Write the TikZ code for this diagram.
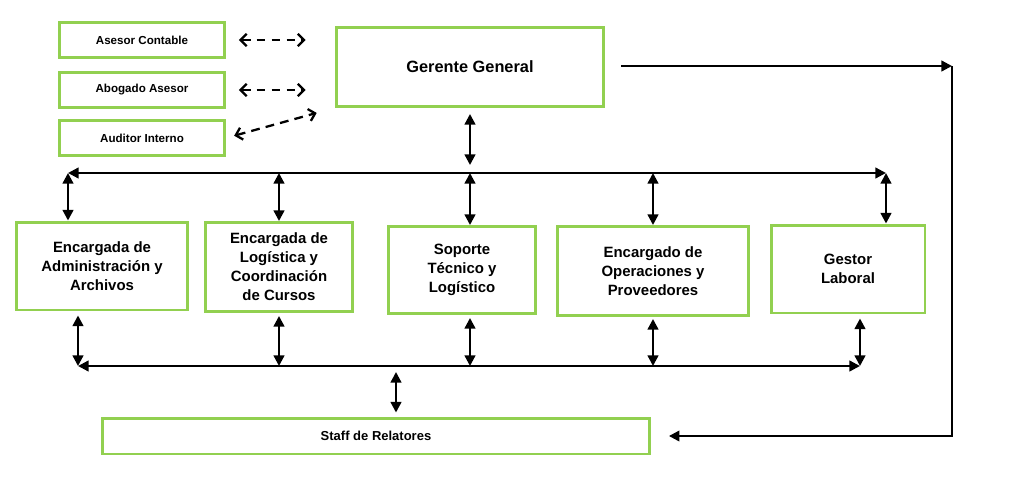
\documentclass[tikz,border=0pt]{standalone}
\usepackage{fontspec}
\setmainfont{Liberation Sans}
\usetikzlibrary{positioning,arrows.meta}
\definecolor{verde}{RGB}{146,208,80}
\begin{document}
\begin{tikzpicture}[x=0.02cm,y=-0.02cm,
	caja/.style={draw=verde, line width=1.7pt, fill=white, inner sep=0pt, align=center, font=\bfseries\fontsize{8.5}{10.8}\selectfont},
	cajita/.style={caja, minimum width=3.3cm, minimum height=0.7cm, font=\bfseries\fontsize{6.6}{8}\selectfont},
	flecha/.style={line width=1.3pt, {Triangle[length=6pt,width=6pt]}-{Triangle[length=6pt,width=6pt]}},
	punta/.style={line width=1.3pt, -{Triangle[length=6pt,width=6pt]}},
	punteada/.style={line width=1.3pt, dash pattern=on 5pt off 3.5pt, {Straight Barb[length=3.5pt,width=7pt]}-{Straight Barb[length=3.5pt,width=7pt]}}]
		\useasboundingbox (0,0) rectangle (1011,480);
		\node[cajita] (ac) at (142,40) {Asesor Contable};
		\node[cajita] (aa) at (142,90) {Abogado Asesor};
		\node[cajita] (ai) at (142,138) {Auditor Interno};
		\node[caja, minimum width=5.36cm, minimum height=1.58cm, font=\bfseries\fontsize{9.3}{11}\selectfont] (ger) at (470,67) {Gerente General};
		\node[caja, minimum width=3.42cm, minimum height=1.76cm] (adm) at (102,266) {Encargada de\\Administración y\\Archivos};
		\node[caja, minimum width=2.96cm, minimum height=1.78cm] (log) at (279,267) {Encargada de\\Logística y\\Coordinación\\de Cursos};
		\node[caja, minimum width=2.96cm, minimum height=1.74cm] (sop) at (462,270) {Soporte\\Técnico y\\Logístico};
		\node[caja, minimum width=3.82cm, minimum height=1.78cm] (ope) at (653,271) {Encargado de\\Operaciones y\\Proveedores};
		\node[caja, minimum width=3.08cm, minimum height=1.76cm] (ges) at (848,269) {Gestor\\Laboral};
		\node[caja, minimum width=10.94cm, minimum height=0.72cm, font=\bfseries\fontsize{7.4}{9}\selectfont] (sta) at (376,436) {Staff de Relatores};
		\coordinate (tl) at (68,173);
		\coordinate (tr) at (886,173);
		\coordinate (bl) at (78,366);
		\coordinate (br) at (860,366);
		\coordinate (sb) at (396,366);
		\coordinate (rc) at (952,66);
		\draw[punteada, shorten <=0.26cm, shorten >=0.58cm] (ac.east) -- (ac.east -| ger.west);
		\draw[punteada, shorten <=0.26cm, shorten >=0.58cm] (aa.east) -- (aa.east -| ger.west);
		\draw[punteada, shorten <=0.17cm, shorten >=0.37cm] (ai.east) -- (ger.south west);
		\draw[flecha, shorten <=0.12cm, shorten >=0.16cm] (ger.south) -- (ger.south |- tl);
		\draw[flecha] (tl) -- (tr);
		\draw[flecha] (tl) -- (tl |- adm.north);
		\draw[flecha] (log.north |- tl) -- (log.north);
		\draw[flecha] (ger.south |- tl) -- (ger.south |- sop.north);
		\draw[flecha] (ope.north |- tl) -- (ope.north);
		\draw[flecha] (tr) -- (tr |- ges.north);
		\draw[flecha] (bl) -- (br);
		\draw[flecha, shorten <=0.08cm] (bl |- adm.south) -- (bl);
		\draw[flecha, shorten <=0.06cm] (log.south) -- (log.south |- bl);
		\draw[flecha, shorten <=0.06cm] (ger.south |- sop.south) -- (ger.south |- bl);
		\draw[flecha, shorten <=0.04cm] (ope.south) -- (ope.south |- bl);
		\draw[flecha, shorten <=0.08cm] (br |- ges.south) -- (br);
		\draw[flecha, shorten <=0.12cm, shorten >=0.08cm] (sb) -- (sb |- sta.north);
		\draw[punta, shorten <=0.32cm] (ger.east |- rc) -- (rc);
		\draw[punta, shorten >=0.36cm] (rc) |- (sta.east);
\end{tikzpicture}
\end{document}
